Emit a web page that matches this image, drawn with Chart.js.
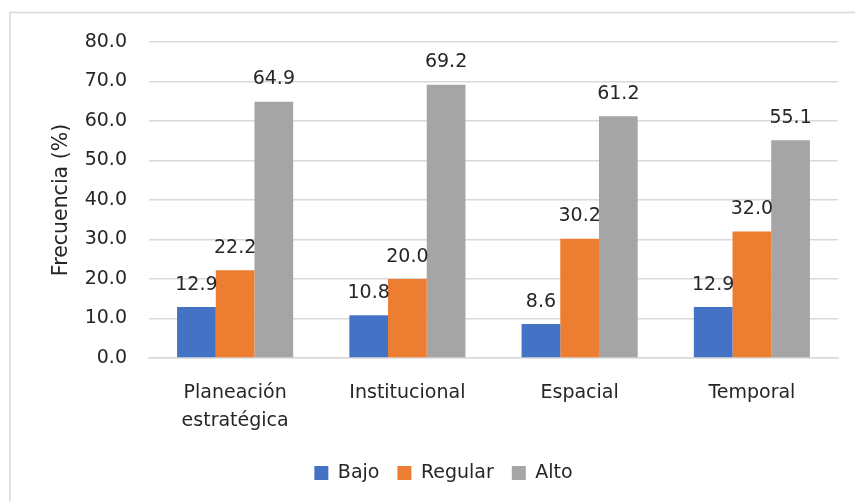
<!DOCTYPE html>
<html>
<head>
<meta charset="utf-8">
<script src="https://cdn.jsdelivr.net/npm/chart.js@4/dist/chart.umd.min.js"></script>
<style>
  body { margin: 0; background: #fff; }
  canvas { display: block; }
</style>
</head>
<body>
<canvas id="chart" width="855" height="501"></canvas>
<script>
// Data
const categories = [['Planeación', 'estratégica'], 'Institucional', 'Espacial', 'Temporal'];
const bajo = [12.9, 10.8, 8.6, 12.9];
const regular = [22.2, 20.0, 30.2, 32.0];
const alto = [64.9, 69.2, 61.2, 55.1];
const seriesNames = ['Bajo', 'Regular', 'Alto'];
const yTicks = [0, 10, 20, 30, 40, 50, 60, 70, 80];

const textColor = '#262626';
const fontFamily = '"DejaVu Sans", sans-serif';

// Outer frame like the Excel chart area
const framePlugin = {
    id: 'frame',
    beforeDraw(chart) {
        const ctx = chart.ctx;
        ctx.save();
        ctx.fillStyle = '#fff';
        ctx.fillRect(0, 0, chart.width, chart.height);
        ctx.strokeStyle = '#d9d9d9';
        ctx.lineWidth = 1.6;
        ctx.strokeRect(10, 12.5, 900, 600);
        ctx.restore();
    }
};

// Value labels above the bars
const valueLabels = {
    id: 'valueLabels',
    afterDatasetsDraw(chart) {
        const ctx = chart.ctx;
        ctx.save();
        ctx.font = '19px ' + fontFamily;
        ctx.fillStyle = textColor;
        ctx.textAlign = 'center';
        ctx.textBaseline = 'alphabetic';
        chart.data.datasets.forEach((ds, i) => {
            chart.getDatasetMeta(i).data.forEach((bar, j) => {
                ctx.fillText(ds.data[j].toFixed(1), bar.x, bar.y - 17.5);
            });
        });
        ctx.restore();
    }
};

new Chart(document.getElementById('chart'), {
    type: 'bar',
    data: {
        labels: categories,
        datasets: [
            { label: seriesNames[0], data: bajo, backgroundColor: '#4472C4' },
            { label: seriesNames[1], data: regular, backgroundColor: '#ED7D31' },
            { label: seriesNames[2], data: alto, backgroundColor: '#A5A5A5' }
        ]
    },
    options: {
        responsive: false,
        animation: false,
        categoryPercentage: 0.674,
        barPercentage: 1,
        layout: { padding: { left: 49, top: 42, right: 17, bottom: 8.5 } },
        plugins: {
            tooltip: { enabled: false },
            legend: {
                position: 'bottom',
                labels: {
                    color: textColor,
                    font: { family: fontFamily, size: 19 },
                    boxWidth: 14,
                    boxHeight: 14,
                    padding: 18
                }
            }
        },
        scales: {
            x: {
                grid: { display: false },
                border: { color: '#d9d9d9', width: 1.5 },
                ticks: {
                    color: textColor,
                    font: { family: fontFamily, size: 19, lineHeight: 1.5 },
                    padding: 12.5,
                    maxRotation: 0
                },
                afterFit(scale) { scale.height = 87.5; }
            },
            y: {
                min: yTicks[0],
                max: yTicks[yTicks.length - 1],
                afterBuildTicks(scale) { scale.ticks = yTicks.map(v => ({ value: v })); },
                grid: { color: '#d9d9d9', lineWidth: 1.5, drawTicks: false },
                border: { display: false },
                ticks: {
                    color: textColor,
                    font: { family: fontFamily, size: 19 },
                    padding: 22,
                    callback: v => v.toFixed(1)
                },
                title: {
                    display: true,
                    text: 'Frecuencia (%)',
                    color: textColor,
                    font: { family: fontFamily, size: 20.5 },
                    padding: 0
                },
                afterFit(scale) { scale.width = 100; }
            }
        }
    },
    plugins: [framePlugin, valueLabels]
});
</script>
</body>
</html>
